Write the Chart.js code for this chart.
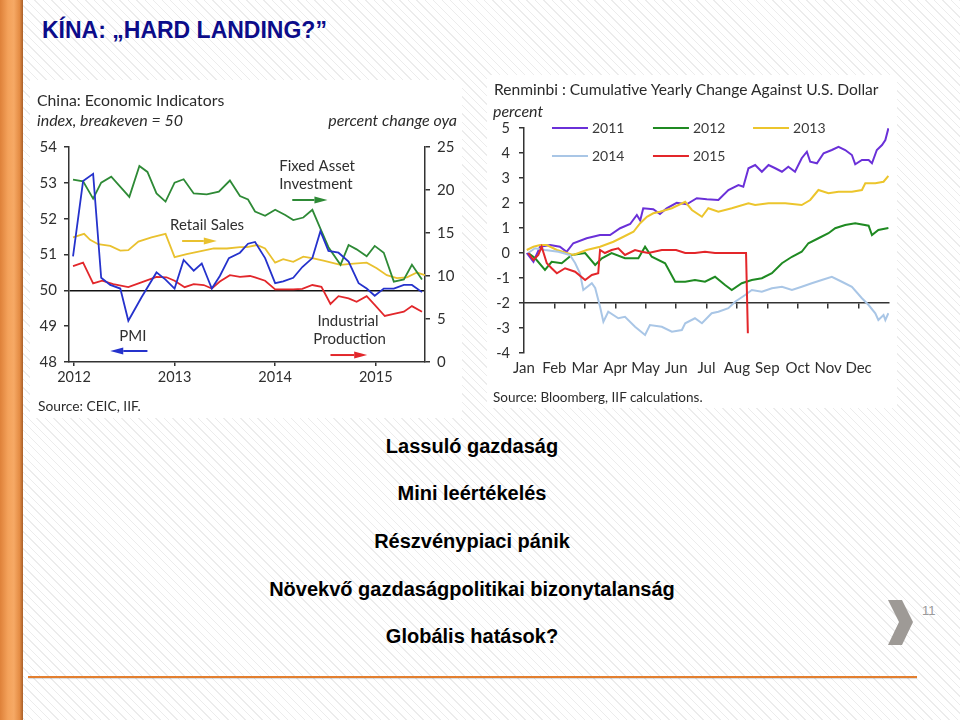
<!DOCTYPE html>
<html lang="hu">
<head>
<meta charset="utf-8">
<title>Kína: hard landing?</title>
<script src="https://cdn.jsdelivr.net/npm/chart.js@4.4.1/dist/chart.umd.min.js"></script>
<style>
html,body{margin:0;padding:0}
body{width:960px;height:720px;position:relative;overflow:hidden;
 background:repeating-linear-gradient(45deg,#ffffff 0px,#ffffff 5px,#ececec 5px,#ececec 6px);
 font-family:"Liberation Sans",Arial,sans-serif}
#sidebar{position:absolute;left:0;top:0;width:23px;height:720px;
 background:linear-gradient(to right,#de8139 0%,#f4a25b 35%,#f6a965 60%,#e48c44 85%,#a85f2a 100%)}
#title{position:absolute;left:42px;top:16px;font-weight:bold;font-size:23px;color:#0c0c8a;white-space:nowrap;line-height:28px}
.box{position:absolute;background:#fff}
.box canvas{position:absolute;left:0;top:0}
.ct{position:absolute;font-family:Lato,"Open Sans",sans-serif;color:#2b2b2b;white-space:nowrap;line-height:1}
.bullet{position:absolute;left:0;width:944px;text-align:center;font-weight:bold;font-size:20px;color:#000;line-height:24px}
#rule{position:absolute;left:28px;top:676px;width:889px;height:2px;background:#e37f2f;box-shadow:0 1px 1px rgba(0,0,0,.15)}
#pagenum{position:absolute;left:922px;top:603px;font-size:13px;color:#9a9a9a}
#chev{position:absolute;left:886px;top:599px}
</style>
</head>
<body>
<div id="sidebar"></div>
<div id="title">KÍNA: „HARD LANDING?”</div>

<div class="box" style="left:30px;top:80px;width:432px;height:338px">
  <canvas id="ecoChart" width="432" height="338"></canvas>
  <div class="ct" style="left:7px;top:12px;font-size:15.8px">China: Economic Indicators</div>
  <div class="ct" style="left:7px;top:32px;font-size:16px;font-style:italic">index, breakeven = 50</div>
  <div class="ct" style="right:5px;top:32px;font-size:16px;font-style:italic">percent change oya</div>
  <div class="ct" style="left:8px;top:319px;font-size:13.8px">Source: CEIC, IIF.</div>
</div>

<div class="box" style="left:487px;top:75px;width:410px;height:333px">
  <canvas id="cnyChart" width="410" height="333"></canvas>
  <div class="ct" style="left:7px;top:7px;font-size:15.6px">Renminbi : Cumulative Yearly Change Against U.S. Dollar</div>
  <div class="ct" style="left:6px;top:28px;font-size:16px;font-style:italic">percent</div>
  <div class="ct" style="left:6px;top:316px;font-size:13.5px">Source: Bloomberg, IIF calculations.</div>
</div>

<div class="bullet" style="top:434px">Lassuló gazdaság</div>
<div class="bullet" style="top:481px">Mini leértékelés</div>
<div class="bullet" style="top:529px">Részvénypiaci pánik</div>
<div class="bullet" style="top:577px">Növekvő gazdaságpolitikai bizonytalanság</div>
<div class="bullet" style="top:624px">Globális hatások?</div>

<svg id="chev" width="30" height="48" viewBox="0 0 30 48"><polygon points="2,1 16,1 27,23 16,46 2,46 13,23" fill="#9e9a96"/></svg>
<div id="pagenum">11</div>
<div id="rule"></div>

<script>
// ---------- Left chart: China economic indicators (x = decimal year) ----------
const yearTicks = [2012, 2013, 2014, 2015];

const pmiYear  = [2011.99,2012.09,2012.19,2012.27,2012.36,2012.46,2012.54,2012.67,2012.82,2012.91,2013.00,2013.09,2013.19,2013.27,2013.37,2013.45,2013.54,2013.65,2013.73,2013.80,2013.90,2014.00,2014.08,2014.18,2014.27,2014.37,2014.45,2014.53,2014.63,2014.73,2014.83,2014.91,2014.99,2015.08,2015.18,2015.28,2015.36,2015.46];
const pmiValue = [50.95,53.05,53.25,50.35,50.15,50.05,49.15,49.8,50.5,50.3,50.05,50.85,50.55,50.75,50.05,50.4,50.9,51.05,51.3,51.35,50.9,50.2,50.25,50.35,50.65,50.9,51.65,51.1,51.05,50.8,50.2,50.05,49.85,50.05,50.05,50.15,50.15,49.95];

const faiYear  = [2011.99,2012.09,2012.19,2012.27,2012.37,2012.55,2012.65,2012.73,2012.82,2012.91,2013.00,2013.09,2013.19,2013.32,2013.44,2013.55,2013.65,2013.73,2013.80,2013.90,2014.00,2014.10,2014.18,2014.28,2014.37,2014.45,2014.53,2014.65,2014.73,2014.81,2014.91,2014.99,2015.08,2015.18,2015.28,2015.36,2015.46];
const faiValue = [21.2,21.0,19.0,20.85,21.55,19.2,22.8,22.1,19.6,18.65,20.85,21.25,19.6,19.5,19.8,21.1,19.3,18.9,17.5,17.0,17.7,17.1,16.5,16.8,17.7,15.5,13.35,11.3,13.6,13.1,12.3,13.5,12.7,9.35,9.6,11.3,9.6];

const rsYear   = [2011.99,2012.10,2012.16,2012.24,2012.36,2012.46,2012.54,2012.64,2012.77,2012.91,2013.00,2013.12,2013.25,2013.39,2013.52,2013.65,2013.72,2013.82,2013.90,2014.00,2014.08,2014.18,2014.28,2014.38,2014.48,2014.65,2014.75,2014.91,2015.01,2015.11,2015.21,2015.31,2015.41,2015.49];
const rsValue  = [14.5,14.9,14.2,13.7,13.5,12.95,13.0,14.0,14.5,14.9,12.2,12.55,12.85,13.2,13.2,13.35,13.35,13.6,13.2,11.55,11.95,11.65,12.25,12.05,11.8,11.3,11.4,11.55,10.9,10.1,9.75,9.85,10.4,10.1];

const ipYear   = [2011.99,2012.09,2012.19,2012.28,2012.39,2012.54,2012.69,2012.82,2012.92,2013.00,2013.10,2013.19,2013.29,2013.37,2013.45,2013.55,2013.65,2013.75,2013.80,2013.90,2014.00,2014.08,2014.18,2014.27,2014.37,2014.46,2014.55,2014.63,2014.73,2014.81,2014.91,2014.99,2015.09,2015.18,2015.28,2015.36,2015.46];
const ipValue  = [11.15,11.55,9.15,9.45,9.05,8.7,9.35,9.9,9.85,9.45,8.7,9.05,8.95,8.55,9.35,10.1,9.9,10.0,9.85,9.45,8.45,8.45,8.45,8.5,8.95,8.75,6.75,7.65,7.4,7.0,7.65,6.65,5.35,5.6,5.85,6.5,5.85];

// ---------- Right chart: renminbi vs USD, cumulative yearly change (x = months since Jan 1) ----------
const monthLabels = ['Jan','Feb','Mar','Apr','May','Jun','Jul','Aug','Sep','Oct','Nov','Dec'];

const cny2011Month = [0.09,0.31,0.53,0.86,1.18,1.40,1.62,2.06,2.50,2.83,3.16,3.49,3.71,3.82,3.92,4.25,4.47,4.69,5.02,5.35,5.68,6.01,6.39,6.72,7.05,7.21,7.38,7.60,7.82,8.04,8.26,8.48,8.69,8.91,9.13,9.30,9.41,9.63,9.85,10.12,10.34,10.56,10.78,10.89,11.11,11.33,11.44,11.60,11.77,11.88,11.98];
const cny2011Value = [0,-0.35,0.25,0.32,0.25,0.05,0.39,0.59,0.72,0.72,0.99,1.16,1.52,1.3,1.79,1.75,1.56,1.79,2.01,1.95,2.19,2.15,2.12,2.52,2.72,2.65,3.39,3.52,3.25,3.52,3.39,3.25,3.45,3.25,3.79,4.05,3.65,3.59,3.99,4.12,4.25,4.12,3.92,3.55,3.72,3.72,3.59,4.12,4.32,4.52,4.99];

const cny2012Month = [0.14,0.36,0.69,0.91,1.24,1.57,2.01,2.34,2.56,2.88,3.32,3.76,3.98,4.20,4.64,4.97,5.30,5.62,5.95,6.28,6.61,6.83,7.16,7.49,7.82,8.15,8.48,8.81,9.13,9.35,9.68,10.01,10.23,10.56,10.89,11.33,11.44,11.65,11.98];
const cny2012Value = [0,-0.2,-0.68,-0.35,-0.41,-0.08,0,-0.48,-0.21,0,-0.21,-0.21,0.25,-0.15,-0.41,-1.15,-1.15,-1.08,-1.15,-0.95,-1.28,-1.48,-1.21,-1.08,-1.01,-0.81,-0.41,-0.15,0.05,0.39,0.59,0.79,0.99,1.12,1.19,1.09,0.72,0.92,1.0];

const cny2013Month = [0.09,0.31,0.53,0.75,1.08,1.40,1.62,2.06,2.50,2.94,3.27,3.60,3.82,4.04,4.25,4.47,4.86,5.30,5.52,5.85,6.06,6.39,6.83,7.38,7.60,8.04,8.59,9.13,9.41,9.68,10.01,10.34,10.78,11.11,11.22,11.55,11.82,11.98];
const cny2013Value = [0.12,0.25,0.32,0.32,0.12,0,-0.08,0.12,0.25,0.45,0.65,0.85,1.19,1.45,1.59,1.65,1.79,2.05,1.72,1.45,1.79,1.65,1.79,1.99,1.92,1.99,1.99,1.92,2.12,2.52,2.39,2.45,2.45,2.52,2.79,2.79,2.85,3.08];

const cny2014Month = [0.14,0.36,0.69,1.13,1.51,1.68,1.84,1.95,2.23,2.34,2.50,2.61,2.77,3.10,3.32,3.65,3.98,4.14,4.53,4.86,5.19,5.30,5.62,5.85,6.17,6.39,6.72,6.94,7.27,7.49,7.82,8.15,8.48,8.81,9.13,9.46,9.79,10.12,10.45,10.78,11.11,11.33,11.55,11.65,11.82,11.88,11.98];
const cny2014Value = [0,0.19,0.12,0.05,-0.08,-0.4,-0.81,-1.48,-1.21,-1.4,-2.15,-2.75,-2.35,-2.61,-2.55,-2.95,-3.28,-2.88,-2.95,-3.15,-3.08,-2.81,-2.61,-2.81,-2.41,-2.35,-2.21,-1.95,-1.68,-1.48,-1.55,-1.41,-1.35,-1.48,-1.35,-1.21,-1.08,-0.95,-1.15,-1.35,-1.81,-2.08,-2.41,-2.68,-2.48,-2.68,-2.41];

const cny2015Month = [0.14,0.31,0.47,0.58,0.75,0.91,1.08,1.35,1.68,2.01,2.23,2.44,2.50,2.66,2.88,3.10,3.32,3.65,3.87,4.09,4.53,5.00,5.30,5.62,5.95,6.28,7.30,7.36];
const cny2015Value = [0,-0.28,-0.08,0.25,-0.41,-0.61,-0.81,-0.61,-0.75,-1.08,-0.88,-0.81,0.12,0,0.12,0.19,-0.08,0.12,0.05,0,0.12,0.12,0,0,0.05,0,0,-3.21];

const leftNoteText = ['Fixed Asset','Investment','Retail Sales','PMI','Industrial','Production'];

// ---------- helpers / styles ----------
const pts = (xs, ys) => xs.map((x, i) => ({x: x, y: ys[i]}));
const chartFont = 'Lato, "Open Sans", sans-serif';
const ink = '#2f2f2f';
const axisInk = '#333333';
const col = {pmi:'#2532cc', fai:'#2e8a36', rs:'#e9c12f', ip:'#e2272b',
             y2011:'#6a30d8', y2012:'#1f8a22', y2013:'#ecc52c', y2014:'#a9c6e6', y2015:'#e3262a'};

function arrow(ctx, x1, x2, y, color) {
  const dir = Math.sign(x2 - x1), head = 13, half = 3.5;
  ctx.strokeStyle = color; ctx.fillStyle = color; ctx.lineWidth = 2;
  ctx.beginPath(); ctx.moveTo(x1, y); ctx.lineTo(x2 - dir * head, y); ctx.stroke();
  ctx.beginPath(); ctx.moveTo(x2, y); ctx.lineTo(x2 - dir * head, y - half); ctx.lineTo(x2 - dir * head, y + half); ctx.closePath(); ctx.fill();
}

const leftNotes = {
  id: 'leftNotes',
  afterDatasetsDraw(chart) {
    const {ctx, scales: {x, y2}} = chart;
    const X = v => x.getPixelForValue(v), Y = v => y2.getPixelForValue(v);
    ctx.save();
    ctx.font = '15px ' + chartFont; ctx.fillStyle = ink;
    ctx.textAlign = 'left'; ctx.textBaseline = 'middle';
    ctx.fillText(leftNoteText[0], X(2014.04), Y(22.8));
    ctx.fillText(leftNoteText[1], X(2014.04), Y(20.7));
    ctx.fillText(leftNoteText[2], X(2012.955), Y(15.93));
    ctx.fillText(leftNoteText[3], X(2012.45), Y(3.02));
    ctx.fillText(leftNoteText[4], X(2014.42), Y(4.77));
    ctx.fillText(leftNoteText[5], X(2014.38), Y(2.67));
    arrow(ctx, X(2014.17), X(2014.52), Y(18.84), col.fai);
    arrow(ctx, X(2013.075), X(2013.42), Y(14.07), col.rs);
    arrow(ctx, X(2012.73), X(2012.36), Y(1.28), col.pmi);
    arrow(ctx, X(2014.55), X(2014.915), Y(0.81), col.ip);
    ctx.restore();
  }
};

const cnyLegend = {
  id: 'cnyLegend',
  afterDraw(chart) {
    const {ctx, scales: {x, y}} = chart;
    const slots = [[0.92, 5], [4.24, 5], [7.53, 5], [0.92, 3.88], [4.24, 3.88]];
    ctx.save();
    ctx.font = '14px ' + chartFont; ctx.textAlign = 'left'; ctx.textBaseline = 'middle';
    chart.data.datasets.forEach((ds, i) => {
      const px = x.getPixelForValue(slots[i][0]), py = y.getPixelForValue(slots[i][1]);
      ctx.strokeStyle = ds.borderColor; ctx.lineWidth = 2;
      ctx.beginPath(); ctx.moveTo(px, py); ctx.lineTo(px + 36, py); ctx.stroke();
      ctx.fillStyle = '#3a3a3a';
      ctx.fillText(ds.label, px + 40, py);
    });
    ctx.restore();
  }
};

// ---------- left chart ----------
new Chart(document.getElementById('ecoChart'), {
  type: 'line',
  data: {
    datasets: [
      {label: 'PMI', data: pts(pmiYear, pmiValue), yAxisID: 'y', borderColor: col.pmi},
      {label: 'Fixed Asset Investment', data: pts(faiYear, faiValue), yAxisID: 'y2', borderColor: col.fai},
      {label: 'Retail Sales', data: pts(rsYear, rsValue), yAxisID: 'y2', borderColor: col.rs},
      {label: 'Industrial Production', data: pts(ipYear, ipValue), yAxisID: 'y2', borderColor: col.ip}
    ]
  },
  options: {
    responsive: false, animation: false,
    elements: {point: {radius: 0}, line: {borderWidth: 1.8, tension: 0}},
    layout: {padding: {top: 67, left: 0, right: 0, bottom: 0}},
    plugins: {legend: {display: false}, tooltip: {enabled: false}},
    scales: {
      x: {
        type: 'linear', min: 2011.95, max: 2015.49, position: 'bottom',
        afterBuildTicks: s => { s.ticks = yearTicks.map(v => ({value: v})); },
        ticks: {callback: v => String(v), font: {family: chartFont, size: 14.5}, color: ink, padding: 3, maxRotation: 0, autoSkip: false},
        grid: {drawOnChartArea: false, tickLength: 4, color: axisInk, lineWidth: 1.5},
        border: {color: axisInk, width: 1.5},
        afterFit: s => { s.height = 56; }
      },
      y: {
        type: 'linear', position: 'left', min: 48, max: 54,
        ticks: {stepSize: 1, font: {family: chartFont, size: 15}, color: ink, padding: 7},
        grid: {color: c => (c.tick && c.tick.value === 50 ? '#111' : 'rgba(0,0,0,0)'), tickColor: axisInk, lineWidth: 1.5, tickLength: 5},
        border: {color: axisInk, width: 1.5},
        afterFit: s => { s.width = 39; }
      },
      y2: {
        type: 'linear', position: 'right', min: 0, max: 25,
        ticks: {stepSize: 5, font: {family: chartFont, size: 15}, color: ink, padding: 7},
        grid: {drawOnChartArea: false, tickColor: axisInk, color: axisInk, lineWidth: 1.5, tickLength: 5},
        border: {color: axisInk, width: 1.5},
        afterFit: s => { s.width = 37; }
      }
    }
  },
  plugins: [leftNotes]
});

// ---------- right chart ----------
new Chart(document.getElementById('cnyChart'), {
  type: 'line',
  data: {
    datasets: [
      {label: '2011', data: pts(cny2011Month, cny2011Value), borderColor: col.y2011, order: 5},
      {label: '2012', data: pts(cny2012Month, cny2012Value), borderColor: col.y2012, order: 4},
      {label: '2013', data: pts(cny2013Month, cny2013Value), borderColor: col.y2013, order: 3},
      {label: '2014', data: pts(cny2014Month, cny2014Value), borderColor: col.y2014, order: 2},
      {label: '2015', data: pts(cny2015Month, cny2015Value), borderColor: col.y2015, order: 1}
    ]
  },
  options: {
    responsive: false, animation: false,
    elements: {point: {radius: 0}, line: {borderWidth: 2, tension: 0}},
    layout: {padding: {top: 53, right: 8, left: 0, bottom: 0}},
    plugins: {legend: {display: false}, tooltip: {enabled: false}},
    scales: {
      x: {
        type: 'linear', min: 0, max: 12, position: 'bottom',
        afterBuildTicks: s => { s.ticks = monthLabels.map((m, i) => ({value: i})); },
        ticks: {callback: v => monthLabels[v], font: {family: chartFont, size: 15}, color: ink, padding: 6, maxRotation: 0, autoSkip: false},
        grid: {display: false, drawTicks: false},
        border: {display: false},
        afterFit: s => { s.height = 55; }
      },
      x2: {
        axis: 'x', type: 'linear', min: 0, max: 12, position: {y: -2},
        afterBuildTicks: s => { s.ticks = monthLabels.slice(1).map((m, i) => ({value: i + 1})); },
        ticks: {display: false},
        grid: {drawOnChartArea: false, tickLength: 5, color: axisInk, lineWidth: 1.5},
        border: {color: axisInk, width: 1.5}
      },
      y: {
        type: 'linear', position: 'left', min: -4, max: 5,
        ticks: {stepSize: 1, font: {family: chartFont, size: 14.5}, color: ink, padding: 9},
        grid: {drawOnChartArea: false, tickLength: 5, color: axisInk, lineWidth: 1.5},
        border: {color: axisInk, width: 1.5},
        afterFit: s => { s.width = 37; }
      }
    }
  },
  plugins: [cnyLegend]
});
</script>
</body>
</html>
